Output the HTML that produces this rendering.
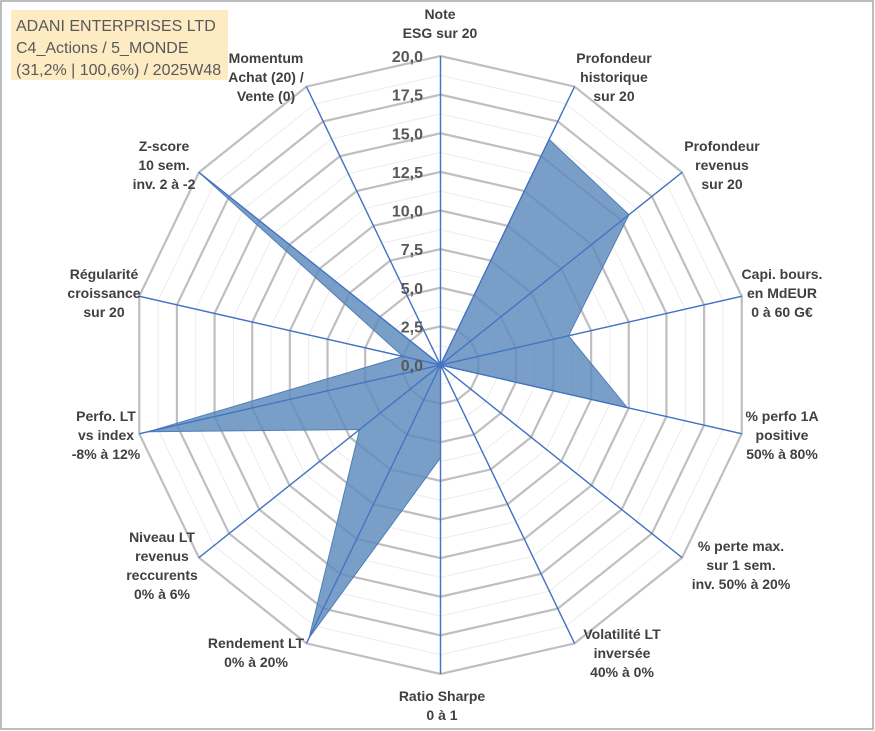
<!DOCTYPE html>
<html><head><meta charset="utf-8"><style>
body{margin:0;background:#fff;}
svg{display:block;font-family:"Liberation Sans",sans-serif;}
</style></head><body>
<svg id="chart" width="875" height="731" viewBox="0 0 875 731">
<rect x="1" y="1" width="872" height="728" fill="#fff" stroke="#a6a6a6" stroke-width="1.5"/>
<g id="grid"></g>
<g id="axes"></g>
<g id="series"></g>
<g id="ticks"></g>
<g id="labels"></g>
<g>
<rect x="11" y="10" width="217" height="70" fill="#fdebc4"/>
<text x="16" y="31" font-size="16" fill="#595959">ADANI ENTERPRISES LTD</text>
<text x="16" y="53" font-size="16" fill="#595959">C4_Actions / 5_MONDE</text>
<text x="16" y="75" font-size="16" fill="#595959">(31,2% | 100,6%) / 2025W48</text>
</g>
</svg>
<script>
const categories = [
 ["Note","ESG sur 20"],
 ["Profondeur","historique","sur 20"],
 ["Profondeur","revenus","sur 20"],
 ["Capi. bours.","en MdEUR","0 à 60 G€"],
 ["% perfo 1A","positive","50% à 80%"],
 ["% perte max.","sur 1 sem.","inv. 50% à 20%"],
 ["Volatilité LT","inversée","40% à 0%"],
 ["Ratio Sharpe","0 à 1"],
 ["Rendement LT","0% à 20%"],
 ["Niveau LT","revenus","reccurents","0% à 6%"],
 ["Perfo. LT","vs index","-8% à 12%"],
 ["Régularité","croissance","sur 20"],
 ["Z-score","10 sem.","inv. 2 à -2"],
 ["Momentum","Achat (20) /","Vente (0)"]
];
const values = [0, 16.2, 15.6, 8.5, 12.4, 0, 0, 6.0, 19.6, 6.7, 19.4, 2.5, 20, 0];
const tickLabels = ["0,0","2,5","5,0","7,5","10,0","12,5","15,0","17,5","20,0"];
const tickValues = [0,2.5,5,7.5,10,12.5,15,17.5,20];

const NS="http://www.w3.org/2000/svg";
const cx=440.5, cy=365, R=309, maxV=20;
const n=categories.length;
function ang(i){return i*2*Math.PI/n;}
function pt(i,v){const r=v/maxV*R;return [cx+r*Math.sin(ang(i)), cy-r*Math.cos(ang(i))];}
function mk(tag,attrs,parent){const e=document.createElementNS(NS,tag);for(const k in attrs)e.setAttribute(k,attrs[k]);parent.appendChild(e);return e;}
const grid=document.getElementById('grid');
for(let s=1;s<=16;s++){
  const v=s*1.25;
  const pts=[];for(let i=0;i<n;i++)pts.push(pt(i,v).join(','));
  const major=s%2===0;
  const p=mk('polygon',{points:pts.join(' '),fill:'none',stroke:major?'#bfbfbf':'#ececec','stroke-width':major?2.2:1},grid);
  
  
}
const axes=document.getElementById('axes');
for(let i=0;i<n;i++){
  const [x,y]=pt(i,maxV);
  const l=mk('line',{x1:cx,y1:cy,x2:x,y2:y,stroke:'#4472c4','stroke-width':1.3},axes);
  
  
}
const series=document.getElementById('series');
const sp=values.map((v,i)=>pt(i,v).join(',')).join(' ');
const poly=mk('polygon',{points:sp,fill:'#5b8abd','fill-opacity':0.82,stroke:'#4f7fb5','stroke-width':1},series);


// redraw spokes over fill lightly
for(let i=0;i<n;i++){
  const [x,y]=pt(i,maxV);
  const l=mk('line',{x1:cx,y1:cy,x2:x,y2:y,stroke:'#4472c4','stroke-width':1.2},series);
  
  
}
const ticks=document.getElementById('ticks');
tickValues.forEach((v,k)=>{
  const y=cy-v/maxV*R;
  const t=mk('text',{x:423,y:y+6,'text-anchor':'end','font-size':16,'font-weight':'bold',fill:'#595959'},ticks);
  t.textContent=tickLabels[k];
  
  
});
const labelPos=[[440,14],[614,58],[722,146],[782,274],[782,416],[741,546],[622,634],[442,696],[256,643],[162,537],[106,416],[104,274],[164,146],[266,58]];
const labels=document.getElementById('labels');
categories.forEach((lines,i)=>{
  const g=mk('g',{},labels);
  
  
  lines.forEach((s,j)=>{
    const t=mk('text',{x:labelPos[i][0],y:labelPos[i][1]+j*19+5,'text-anchor':'middle','font-size':14,'font-weight':'bold',fill:'#404040'},g);
    t.textContent=s;
  });
});
</script>
</body></html>
